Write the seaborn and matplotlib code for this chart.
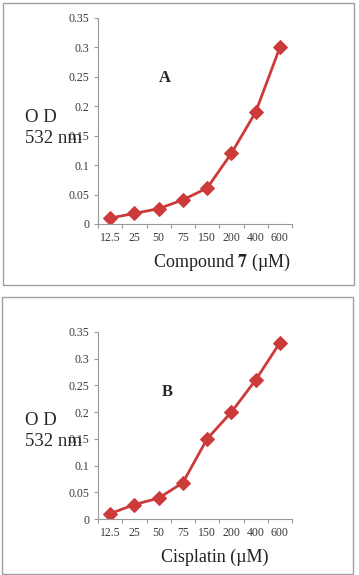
import matplotlib
matplotlib.use("Agg")
import matplotlib.pyplot as plt
import seaborn as sns
import pandas as pd
from matplotlib.patches import Rectangle
from matplotlib.ticker import FuncFormatter, FixedLocator

# concentrations (uM) - same for both panels
conc_a = ['12.5', '25', '50', '75', '150', '200', '400', '600']
conc_b = ['12.5', '25', '50', '75', '150', '200', '400', '600']
od_compound7 = [0.010, 0.018, 0.026, 0.041, 0.061, 0.120, 0.190, 0.300]
od_cisplatin = [0.010, 0.027, 0.039, 0.068, 0.150, 0.200, 0.260, 0.330]
y_ticks = [0, 0.05, 0.1, 0.15, 0.2, 0.25, 0.3, 0.35]

sns.set_style("white")
plt.rcParams['font.family'] = ['Liberation Serif', 'DejaVu Serif']
plt.rcParams['mathtext.fontset'] = 'stix'

red = '#CD3A3A'
W, H = 359, 575
fig = plt.figure(figsize=(W / 100, H / 100), dpi=100)

# panel frames
fig.patches.append(Rectangle((3 / W, 1 - 285 / H), 351 / W, 282 / H, transform=fig.transFigure,
                             fill=False, edgecolor='#a0a0a0', lw=1))
fig.patches.append(Rectangle((2 / W, 1 - 574 / H), 351 / W, 277 / H, transform=fig.transFigure,
                             fill=False, edgecolor='#a0a0a0', lw=1))

ax_a = fig.add_axes([98 / W, 1 - 224 / H, 194 / W, 206 / H])
ax_b = fig.add_axes([98 / W, 1 - 519 / H, 194 / W, 187 / H])

panels = [
    (ax_a, conc_a, od_compound7, 'A', (0.345, 0.71), r'Compound $\mathbf{7}$ (µM)', (222, 262), 128),
    (ax_b, conc_b, od_cisplatin, 'B', (0.356, 0.68), 'Cisplatin (µM)', (215, 557), 431),
]

for ax, conc, od, tag, tag_pos, xlab, xlab_pos, ylab_y in panels:
    df = pd.DataFrame({'conc': conc, 'od': od})
    sns.lineplot(data=df, x='conc', y='od', ax=ax, color=red, lw=2,
                 marker='D', markersize=7.5, markeredgecolor=red, sort=False)
    ax.set_xlim(-0.5, len(conc) - 0.5)
    ax.set_ylim(0, 0.35)
    ax.set_yticks(y_ticks)
    ax.yaxis.set_major_formatter(FuncFormatter(lambda v, p: '%g' % round(v, 2)))
    ax.xaxis.set_minor_locator(FixedLocator([i - 0.5 for i in range(len(conc) + 1)]))
    ax.tick_params(axis='x', which='major', length=0, labelsize=8.5, labelcolor='#3a3a3a', pad=6)
    ax.tick_params(axis='x', which='minor', length=3, color='#999999', width=0.8, bottom=True)
    ax.tick_params(axis='y', length=3, color='#999999', width=0.8, left=True,
                   labelsize=8.5, labelcolor='#3a3a3a', pad=3)
    ax.set_xlabel('')
    ax.set_ylabel('')
    for s in ['top', 'right']:
        ax.spines[s].set_visible(False)
    for s in ['left', 'bottom']:
        ax.spines[s].set_color('#999999')
        ax.spines[s].set_linewidth(0.8)
    ax.text(tag_pos[0], tag_pos[1], tag, transform=ax.transAxes, fontsize=12,
            fontweight='bold', ha='center', va='center')
    fig.text(xlab_pos[0] / W, 1 - xlab_pos[1] / H, xlab, fontsize=13, ha='center', va='center',
             color='#222222')
    fig.text(25 / W, 1 - ylab_y / H, 'O D\n532 nm', fontsize=13.5, ha='left', va='center',
             linespacing=1.3)

fig.savefig('out.png', dpi=100)
